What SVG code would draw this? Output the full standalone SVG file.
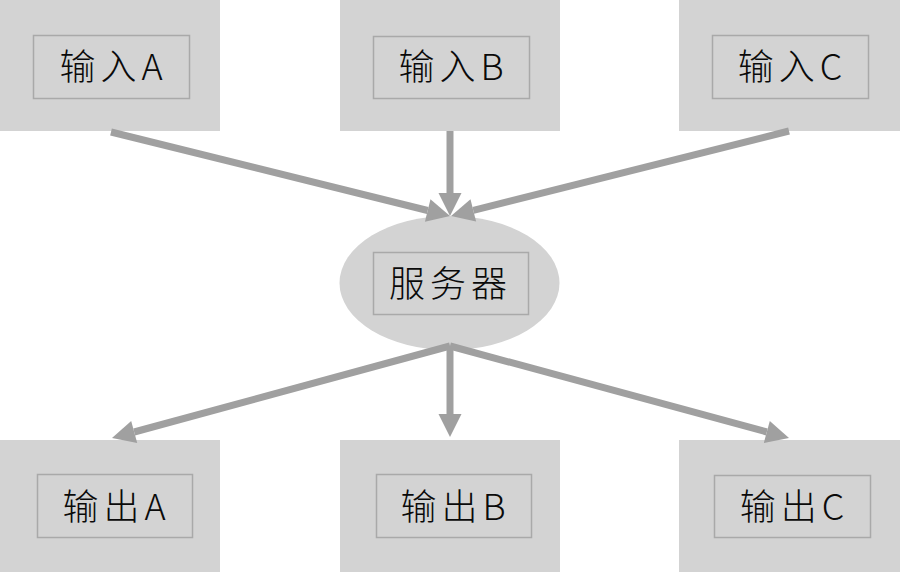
<svg xmlns="http://www.w3.org/2000/svg" width="900" height="572" viewBox="0 0 900 572">
<style>
.box{fill:#d3d3d3}
.inner{fill:none;stroke:#a9a9a9;stroke-width:1.5}
.lbl{font-family:"Noto Sans CJK SC","Noto Sans",sans-serif;font-size:36px;font-weight:300;fill:#0a0a0a;text-anchor:middle;letter-spacing:5px}
.conn{stroke:#a0a0a0;stroke-width:7;fill:none;marker-end:url(#ah)}
</style>
<defs>
<marker id="ah" markerUnits="userSpaceOnUse" markerWidth="24" markerHeight="24" refX="0" refY="11.5" orient="auto" viewBox="0 0 24 24" overflow="visible">
<path d="M0,0 L23,11.5 L0,23 z" fill="#a0a0a0"/>
</marker>
</defs>
<rect width="900" height="572" fill="#fff"/>
<g id="inA"><rect class="box" x="0" y="0" width="220" height="131"/><rect class="inner" x="33.5" y="35.5" width="156" height="63"/><text class="lbl" x="113.5" y="80">输入A</text></g>
<g id="inB"><rect class="box" x="340" y="0" width="220" height="131"/><rect class="inner" x="373.5" y="36.5" width="156" height="62"/><text class="lbl" x="453.5" y="80">输入B</text></g>
<g id="inC"><rect class="box" x="679" y="0" width="221" height="131"/><rect class="inner" x="712.5" y="35.5" width="156" height="63"/><text class="lbl" x="792.5" y="80">输入C</text></g>
<g id="server"><ellipse class="box" cx="449.5" cy="283" rx="110" ry="67"/><rect class="inner" x="373.5" y="252.5" width="155" height="62"/><text class="lbl" x="450.5" y="297">服务器</text></g>
<g id="outA"><rect class="box" x="0" y="440" width="220" height="132"/><rect class="inner" x="37.5" y="474.5" width="155" height="63"/><text class="lbl" x="116.5" y="520">输出A</text></g>
<g id="outB"><rect class="box" x="340" y="440" width="220" height="132"/><rect class="inner" x="376.5" y="474.5" width="155" height="63"/><text class="lbl" x="455.5" y="520">输出B</text></g>
<g id="outC"><rect class="box" x="679" y="440" width="221" height="132"/><rect class="inner" x="714.5" y="475.5" width="156" height="62"/><text class="lbl" x="794.5" y="520">输出C</text></g>
<g id="connectors">
<line class="conn" x1="111" y1="132" x2="427.7" y2="210.5"/>
<line class="conn" x1="450" y1="131" x2="450" y2="193"/>
<line class="conn" x1="789" y1="131" x2="473.3" y2="210.4"/>
<line class="conn" x1="450" y1="346" x2="134.2" y2="432"/>
<line class="conn" x1="450" y1="346" x2="450" y2="414"/>
<line class="conn" x1="450" y1="346" x2="766.8" y2="432"/>
</g>
</svg>
